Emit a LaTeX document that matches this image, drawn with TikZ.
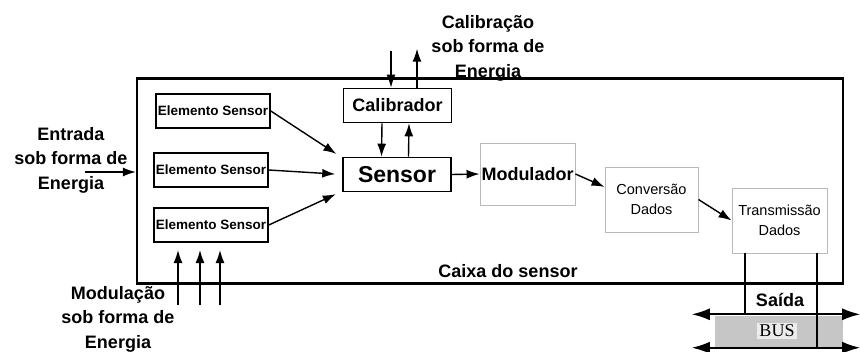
\documentclass[tikz,border=0pt]{standalone}
\usepackage{fontspec}
\setmainfont{Liberation Sans}
\newfontfamily\busfont{Liberation Serif}
\usetikzlibrary{arrows.meta,positioning}

\begin{document}
\begin{tikzpicture}[x=1pt,y=-1pt,
  box/.style={draw, line width=1.6pt, inner sep=0pt, align=center},
  elem/.style={box, minimum width=114pt, minimum height=34pt, font=\bfseries\fontsize{13.5}{15}\selectfont},
  core/.style={box, minimum width=108pt, minimum height=34pt},
  soft/.style={draw=gray!55, line width=0.9pt, inner sep=0pt, align=center, font=\fontsize{14.5}{20}\selectfont},
  lbl/.style={align=center, font=\bfseries\fontsize{18}{24.5}\selectfont, inner sep=0pt},
  arr/.style={-{Latex[length=13pt,width=9pt]}, line width=1.4pt},
  busarr/.style={{Latex[length=18pt,width=12pt]}-{Latex[length=18pt,width=12pt]}, line width=1.8pt}
]
\useasboundingbox (0,0) rectangle (860,351);
\node[draw, line width=2.2pt, minimum width=706pt, minimum height=205pt, inner sep=0pt] (caixa) at (490,181) {};
\node[lbl] (caixaTxt) at (508,271) {Caixa do sensor};
\node[elem] (elemA) at (213,111) {Elemento Sensor};
\node[elem] (elemB) at (211,170) {Elemento Sensor};
\node[elem] (elemC) at (211,225) {Elemento Sensor};
\node[core, minimum height=34pt, font=\bfseries\fontsize{18}{20}\selectfont] (calib) at (397.5,105.5) {Calibrador};
\node[core, font=\bfseries\fontsize{23}{25}\selectfont] (sensor) at (397,174.5) {Sensor};
\node[soft, minimum width=95pt, minimum height=62pt, font=\bfseries\fontsize{18}{20}\selectfont] (modul) at (527.5,174) {Modulador};
\node[soft, minimum width=93pt, minimum height=65pt] (conv) at (651.5,199.5) {Conversão\\Dados};
\node[soft, minimum width=95pt, minimum height=65pt] (trans) at (779.5,220.5) {Transmissão\\Dados};
% texts outside the box
\node[lbl] (entrada) at (71,160) {Entrada\\sob forma de\\Energia};
\node[lbl] (modTxt) at (118,319) {Modulação\\sob forma de\\Energia};
\node[lbl] (calTxt) at (488,48) {Calibração\\sob forma de\\Energia};
\node[lbl] (saida) at (780,300) {Saída};
% bus
\node[fill=gray!45, minimum width=128pt, minimum height=31pt, inner sep=0pt] (bus) at (779,331) {};
\node[fill=gray!15, inner sep=2pt, font=\busfont\fontsize{18}{20}\selectfont] (busTxt) at (777,331) {BUS};
\draw[busarr] ([xshift=-23pt,yshift=1pt]bus.north west) -- ([xshift=17pt,yshift=1pt]bus.north east);
\draw[busarr] ([xshift=-23pt,yshift=-1pt]bus.south west) -- ([xshift=17pt,yshift=-1pt]bus.south east);
\draw[line width=1.3pt] ([xshift=-34.5pt]trans.south) -- ([xshift=-34.5pt]trans.south |- bus.north);
\draw[line width=1.3pt] ([xshift=37.5pt]trans.south) -- ([xshift=37.5pt,yshift=-1pt]trans.south |- bus.south);
% connectors
\coordinate (entIn) at (85,172);
\draw[arr] (entIn) -- (entIn -| caixa.west);
\coordinate (modIn) at (200,305);
\foreach \dx in {-22,0,20}
  \draw[arr] ([xshift=\dx pt]modIn) -- ++(0,-55);
\draw[arr] ([xshift=-6.5pt,yshift=37pt]calib.north) -- ([xshift=-6.5pt]calib.north);
\draw[arr] ([xshift=19.5pt]calib.north) -- ++(0,-39);
\draw[arr] ([xshift=-15.5pt]calib.south) -- ([xshift=-15.5pt]sensor.north);
\draw[arr] ([xshift=11.5pt]sensor.north) -- ([xshift=11.5pt]calib.south);
\draw[arr, shorten >=7pt] (elemA.east) -- (sensor.163);
\draw[arr, shorten >=7pt] (elemB.east) -- (sensor.west);
\draw[arr, shorten >=7pt] (elemC.east) -- (sensor.197);
\draw[arr] (sensor.east) -- (modul.west);
\draw[arr] (modul.east) -- (conv.165);
\draw[arr] (conv.east) -- (trans.west);
\end{tikzpicture}
\end{document}
